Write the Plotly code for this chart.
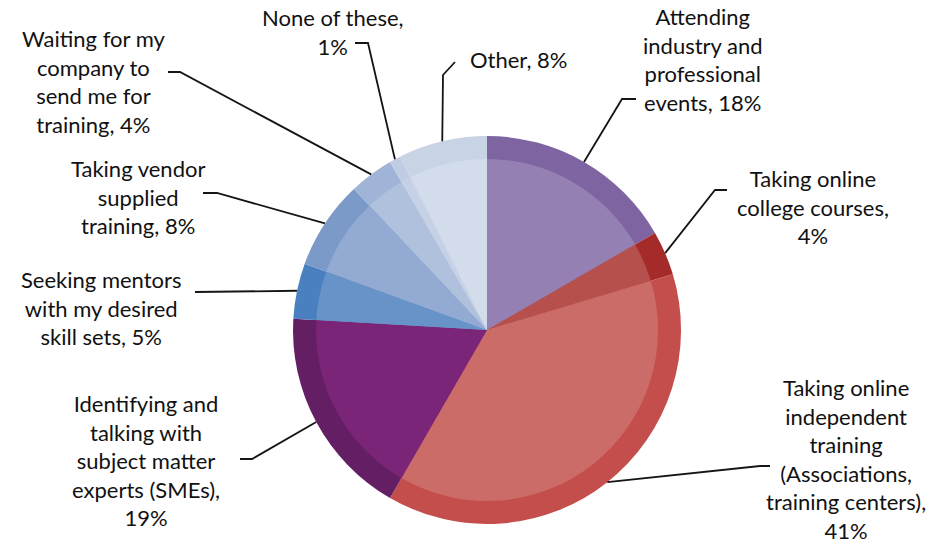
import math
import plotly.graph_objects as go

# ---- data ----
categories = [
    "Attending industry and professional events",
    "Taking online college courses",
    "Taking online independent training (Associations, training centers)",
    "Identifying and talking with subject matter experts (SMEs)",
    "Seeking mentors with my desired skill sets",
    "Taking vendor supplied training",
    "Waiting for my company to send me for training",
    "None of these",
    "Other",
]
values = [18, 4, 41, 19, 5, 8, 4, 1, 8]
label_lines = [
    ["Attending", "industry and", "professional", "events, 18%"],
    ["Taking online", "college courses,", "4%"],
    ["Taking online", "independent", "training", "(Associations,", "training centers),", "41%"],
    ["Identifying and", "talking with", "subject matter", "experts (SMEs),", "19%"],
    ["Seeking mentors", "with my desired", "skill sets, 5%"],
    ["Taking vendor", "supplied", "training, 8%"],
    ["Waiting for my", "company to", "send me for", "training, 4%"],
    ["None of these,", "1%"],
    ["Other, 8%"],
]

# ---- styles ----
outer_colors = ["#7E64A0", "#A52A2A", "#C44E4B", "#641E64", "#4A80C0",
                "#7C9AC8", "#A0B4D8", "#BFCCE3", "#C9D3E6"]
inner_colors = ["#9480B3", "#B5504D", "#CC6C68", "#7B2579", "#6893C9",
                "#93ABD2", "#B0C1DD", "#C6D1E6", "#D3DCEA"]

W, H = 938, 548
CX, CY, R, RI = 487, 330, 194, 171

# label layout (pixel positions): text block center, elbow points
label_pos = [
    (703, 60),
    (813, 207),
    (846, 459),
    (146, 460),
    (101, 308),
    (138, 197),
    (93, 82),
    (333, 32),
    (518, 60),
]
elbows = [
    [(622, 99), (636, 99)],
    [(715, 190), (727, 190)],
    [(760, 466), (770, 466)],
    [(252, 459), (240, 459)],
    [(195, 292)],
    [(217, 193), (203, 193)],
    [(180, 72), (168, 72)],
    [(368, 43), (355, 43)],
    [(443, 75), (455, 62)],
]


def px(x):
    return x / W


def py(y):
    return 1 - y / H


def dom(r):
    return dict(x=[px(CX - r), px(CX + r)], y=[py(CY + r), py(CY - r)])


fig = go.Figure()
fig.add_trace(go.Pie(labels=categories, values=values, sort=False,
                     direction="clockwise", rotation=0, textinfo="none",
                     hoverinfo="skip", marker=dict(colors=outer_colors, line=dict(width=0)),
                     domain=dom(R), showlegend=False))
fig.add_trace(go.Pie(labels=categories, values=values, sort=False,
                     direction="clockwise", rotation=0, textinfo="none",
                     hoverinfo="skip", marker=dict(colors=inner_colors, line=dict(width=0)),
                     domain=dom(RI), showlegend=False))

total = sum(values)
cum = 0
shapes = []
annotations = []
for v, lines, (lx, ly), el in zip(values, label_lines, label_pos, elbows):
    mid = (cum + v / 2) / total * 2 * math.pi
    cum += v
    ax = CX + R * math.sin(mid)
    ay = CY - R * math.cos(mid)
    pts = [(ax, ay)] + el
    path = "M " + " L ".join(f"{px(x):.5f},{py(y):.5f}" for x, y in pts)
    shapes.append(dict(type="path", path=path, xref="paper", yref="paper",
                       line=dict(color="#151515", width=1.8)))
    annotations.append(dict(text="<br>".join(lines), x=px(lx), y=py(ly),
                            xref="paper", yref="paper", showarrow=False,
                            align="center", xanchor="center", yanchor="middle",
                            borderpad=0,
                            font=dict(family="Lato", size=22, color="#111111")))

fig.update_layout(width=W, height=H, margin=dict(l=0, r=0, t=0, b=0),
                  paper_bgcolor="white", plot_bgcolor="white",
                  shapes=shapes, annotations=annotations, showlegend=False)
fig.write_html("out.html")
